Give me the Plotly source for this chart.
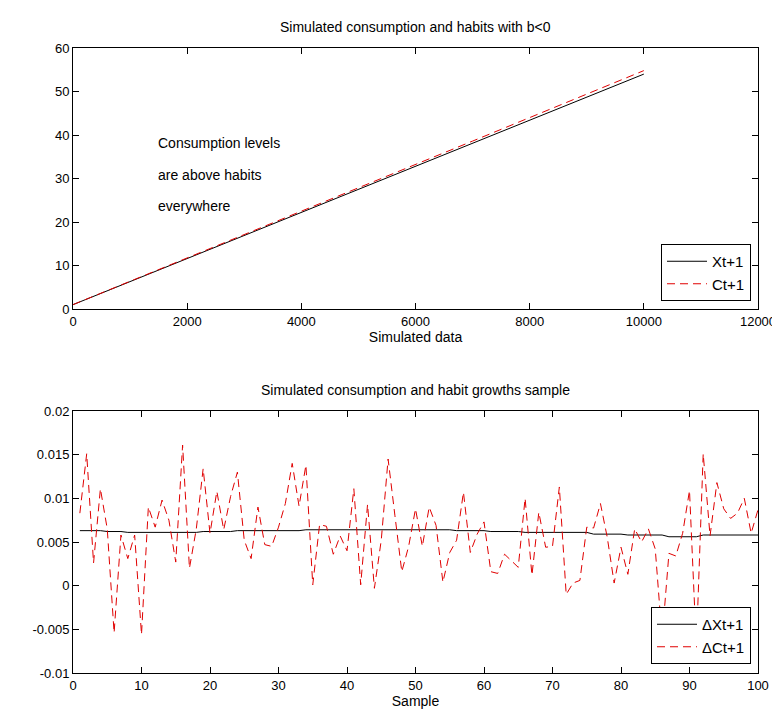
import plotly.graph_objects as go

# ---------------- data ----------------
# Top panel: simulated levels
sim_x = [0, 1000, 2000, 3000, 4000, 5000, 6000, 7000, 8000, 9000, 10000]
habit_X = [1.0, 6.3, 11.6, 16.9, 22.2, 27.5, 32.8, 38.1, 43.4, 48.7, 54.0]
cons_C = [1.0, 6.35, 11.7, 17.05, 22.4, 27.8, 33.2, 38.6, 44.0, 49.4, 54.8]

top_xticks = [0, 2000, 4000, 6000, 8000, 10000, 12000]
top_xticktext = ["0", "2000", "4000", "6000", "8000", "10000", "12000"]
top_yticks = [0, 10, 20, 30, 40, 50, 60]

# Bottom panel: growth sample
sample = list(range(1, 101))
dX = [0.0063, 0.0063, 0.0063, 0.0063, 0.0062, 0.0062, 0.0062, 0.0061, 0.0061, 0.0061,
      0.0061, 0.0061, 0.0061, 0.0061, 0.0061, 0.0061, 0.0061, 0.0061, 0.0062, 0.0062,
      0.0062, 0.0062, 0.0062, 0.0063, 0.0063, 0.0063, 0.0063, 0.0063, 0.0063, 0.0063,
      0.0063, 0.0063, 0.0063, 0.0064, 0.0064, 0.0064, 0.0064, 0.0064, 0.0064, 0.0064,
      0.0064, 0.0064, 0.0064, 0.0064, 0.0064, 0.0064, 0.0064, 0.0064, 0.0064, 0.0064,
      0.0064, 0.0064, 0.0064, 0.0064, 0.0064, 0.0063, 0.0063, 0.0063, 0.0063, 0.0063,
      0.0062, 0.0062, 0.0062, 0.0062, 0.0062, 0.0061, 0.0061, 0.0061, 0.0061, 0.0061,
      0.0061, 0.0061, 0.0061, 0.0061, 0.0061, 0.0059, 0.0059, 0.0059, 0.0059, 0.0059,
      0.0058, 0.0058, 0.0058, 0.0058, 0.0058, 0.0058, 0.0056, 0.0056, 0.0056, 0.0056,
      0.0056, 0.0058, 0.0058, 0.0058, 0.0058, 0.0058, 0.0058, 0.0058, 0.0058, 0.0058]
dC = [0.0083, 0.0151, 0.0026, 0.0111, 0.0065, -0.0054, 0.0058, 0.0031, 0.0058, -0.0056,
      0.0090, 0.0067, 0.0098, 0.0075, 0.0027, 0.0161, 0.0020, 0.0065, 0.0134, 0.0060,
      0.0108, 0.0064, 0.0102, 0.0130, 0.0052, 0.0031, 0.0090, 0.0047, 0.0045, 0.0067,
      0.0094, 0.0140, 0.0091, 0.0138, 0.0001, 0.0070, 0.0068, 0.0036, 0.0057, 0.0040,
      0.0111, 0.0001, 0.0093, -0.0003, 0.0052, 0.0145, 0.0080, 0.0016, 0.0045, 0.0088,
      0.0045, 0.0090, 0.0069, 0.0004, 0.0038, 0.0052, 0.0107, 0.0038, 0.0059, 0.0073,
      0.0016, 0.0014, 0.0036, 0.0029, 0.0021, 0.0100, 0.0012, 0.0084, 0.0044, 0.0045,
      0.0113, -0.0010, 0.0003, 0.0006, 0.0067, 0.0066, 0.0094, 0.0055, 0.0003, 0.0044,
      0.0013, 0.0065, 0.0050, 0.0065, 0.0042, -0.0060, 0.0037, 0.0034, 0.0060, 0.0109,
      -0.0070, 0.0151, 0.0057, 0.0118, 0.0088, 0.0077, 0.0083, 0.0100, 0.0060, 0.0087]

bot_xticks = [0, 10, 20, 30, 40, 50, 60, 70, 80, 90, 100]
bot_yticks = [-0.01, -0.005, 0, 0.005, 0.01, 0.015, 0.02]
bot_yticktext = ["-0.01", "-0.005", "0", "0.005", "0.01", "0.015", "0.02"]

note_lines = ["Consumption levels", "are above habits", "everywhere"]
note_y = [38.2, 30.9, 23.6]

# ---------------- figure ----------------
FONT = "Liberation Sans, Arial, sans-serif"
RED = "#e00000"
DASH = "8px,5px"

fig = go.Figure()
fig.add_trace(go.Scatter(x=sim_x, y=habit_X, mode="lines", name="Xt+1",
                         line=dict(color="black", width=1), xaxis="x", yaxis="y",
                         legend="legend"))
fig.add_trace(go.Scatter(x=sim_x, y=cons_C, mode="lines", name="Ct+1",
                         line=dict(color=RED, width=1, dash=DASH), xaxis="x", yaxis="y",
                         legend="legend"))
fig.add_trace(go.Scatter(x=sample, y=dX, mode="lines", name="\u0394Xt+1",
                         line=dict(color="black", width=1), xaxis="x2", yaxis="y2",
                         legend="legend2"))
fig.add_trace(go.Scatter(x=sample, y=dC, mode="lines", name="\u0394Ct+1",
                         line=dict(color=RED, width=1, dash=DASH), xaxis="x2", yaxis="y2",
                         legend="legend2"))

axis_common = dict(showline=True, linecolor="black", linewidth=1, mirror="ticks",
                   ticks="inside", ticklen=6, tickcolor="black", showgrid=False,
                   zeroline=False, tickfont=dict(family=FONT, size=13, color="black"))

top_dom = [0.5824, 1.0]
bot_dom = [0.0, 0.4192]

legend_common = dict(xanchor="right", yanchor="bottom", bgcolor="white",
                     bordercolor="black", borderwidth=1,
                     font=dict(family=FONT, size=15), itemwidth=40)

fig.update_layout(
    width=780, height=713,
    margin=dict(l=65, r=26, t=40, b=48),
    paper_bgcolor="white", plot_bgcolor="white",
    font=dict(family=FONT, size=13, color="black"),
    xaxis=dict(domain=[0, 1], anchor="y", range=[0, 12000], tickvals=top_xticks,
               ticktext=top_xticktext,
               title=dict(text="Simulated data", standoff=4,
                          font=dict(family=FONT, size=14)), **axis_common),
    yaxis=dict(domain=top_dom, anchor="x", range=[0, 60], tickvals=top_yticks,
               **axis_common),
    xaxis2=dict(domain=[0, 1], anchor="y2", range=[0, 100], tickvals=bot_xticks,
                title=dict(text="Sample", standoff=4,
                           font=dict(family=FONT, size=14)), **axis_common),
    yaxis2=dict(domain=bot_dom, anchor="x2", range=[-0.01, 0.02], tickvals=bot_yticks,
                ticktext=bot_yticktext, **axis_common),
    legend=dict(x=0.9898, y=0.5952, **legend_common),
    legend2=dict(x=0.9898, y=0.0144, **legend_common),
    showlegend=True,
)

annotations = [
    dict(text="Simulated consumption and habits with b<0", xref="paper", yref="paper",
         x=0.5, y=top_dom[1], yshift=11, xanchor="center", yanchor="bottom",
         showarrow=False, font=dict(family=FONT, size=14)),
    dict(text="Simulated consumption and habit growths sample", xref="paper", yref="paper",
         x=0.5, y=bot_dom[1], yshift=11, xanchor="center", yanchor="bottom",
         showarrow=False, font=dict(family=FONT, size=14)),
]
for t, yy in zip(note_lines, note_y):
    annotations.append(dict(text=t, x=1450, y=yy, xref="x", yref="y",
                            xanchor="left", yanchor="middle", showarrow=False,
                            font=dict(family=FONT, size=14)))
fig.update_layout(annotations=annotations)

fig.write_html("out.html")
